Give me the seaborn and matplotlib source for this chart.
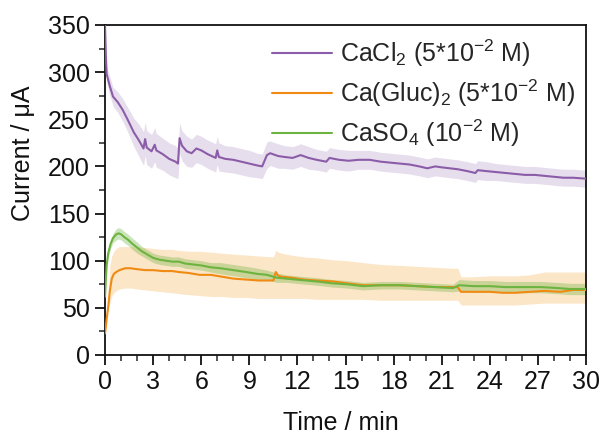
import matplotlib
matplotlib.use("Agg")
import matplotlib.pyplot as plt
import seaborn as sns
import pandas as pd
from matplotlib.ticker import MultipleLocator

# ---- data ----
labels = [r"CaCl$_2$ (5*10$^{-2}$ M)", r"Ca(Gluc)$_2$ (5*10$^{-2}$ M)", r"CaSO$_4$ (10$^{-2}$ M)"]

t_p = [0, 0.05, 0.1, 0.3, 0.5, 0.8, 1.1, 1.4, 1.8, 2.1, 2.4, 2.5, 2.6, 2.9, 3.1, 3.2, 3.6, 4.0, 4.4, 4.55,
       4.65, 4.8, 5.1, 5.4, 5.7, 6.0, 6.4, 6.9, 7.0, 7.1, 7.5, 8.0, 8.5, 9.0, 9.5, 9.8, 10.1, 10.3, 10.8, 11.2,
       11.7, 12.2, 12.7, 13.2, 13.8, 14.0, 14.6, 15.2, 15.8, 16.5, 17.2, 17.8, 18.4, 19.0, 19.6, 20.1, 20.6,
       21.0, 21.5, 22.0, 22.6, 23.1, 23.25, 23.8, 24.4, 25.0, 25.6, 26.2, 26.8, 27.4, 28.0, 28.6, 29.2, 30.0]
y_p = [350, 318, 298, 285, 274, 268, 260, 250, 236, 228, 219, 229, 220, 216, 223, 217, 213, 208, 205, 203,
       230, 222, 216, 214, 219, 217, 213, 209, 217, 210, 208, 207, 205, 203, 201, 200, 212, 214, 211, 210,
       209, 212, 209, 207, 205, 209, 207, 206, 207, 207, 205, 204, 203, 202, 200, 198, 200,
       199, 198, 197, 195, 193, 196, 195, 194, 193, 192, 191, 191, 190, 189, 188, 188, 187]
sd_p = [2, 5, 8, 10, 10, 11, 12, 13, 15, 17, 18,
        18, 18, 18, 18, 18, 17, 17, 17, 16, 16, 16, 16, 15, 15, 15, 15, 15, 15, 15, 14, 14, 14, 14, 13, 13,
        14, 13, 13, 12, 12, 12, 12, 11, 11, 11, 11, 11, 10, 10, 10, 10, 10, 10, 10, 10, 10, 10, 10, 10,
        10, 10, 10, 10, 9, 9, 9, 9, 9, 9, 9, 9, 9, 9]

t_g = [0, 0.05, 0.1, 0.2, 0.35, 0.5, 0.7, 0.85, 1.0, 1.2, 1.45, 1.7, 2.0, 2.3, 2.6, 3.0, 3.4, 3.8, 4.2, 4.6,
       5.0, 5.5, 6.0, 6.6, 7.2, 8.0, 8.8, 9.5, 10.1, 10.7, 11.3, 12.2, 13.2, 14.2, 15.1, 16.1, 17.2, 18.4,
       19.5, 20.6, 21.7, 22.1, 23.0, 24.0, 25.0, 26.3, 27.2, 28.2, 29.0, 30.0]
y_g = [62, 80, 95, 108, 118, 124, 128, 129, 128, 125, 122, 118, 114, 110, 107, 103, 101, 100, 99, 99,
       97, 96, 95, 93, 92, 90, 88, 86, 85, 82, 81, 79.5, 78, 76, 75, 73, 74, 74,
       73, 72, 71, 74, 73, 73, 72, 72, 72, 71, 70, 70]
sd_g = [2, 3, 4, 5, 5, 5, 6, 6, 6, 6, 6, 6, 6, 5, 5, 5, 5, 5, 5, 5,
        5, 5, 5, 5, 6, 6, 6, 6, 5, 5, 4, 4, 4, 4, 4, 4, 4, 4,
        4, 4, 4, 6, 6, 6, 6, 6, 6, 6, 6, 6]

t_o = [0, 0.05, 0.1, 0.2, 0.3, 0.42, 0.55, 0.7, 0.9, 1.25, 1.6, 2.0, 2.5, 3.0, 3.6, 4.2, 4.6, 5.2, 5.9, 6.6,
       7.3, 8.0, 8.8, 9.6, 10.5, 10.65, 10.8, 11.0, 11.6, 12.4, 13.2, 14.2, 15.1, 16.1, 17.2, 18.4, 19.5,
       20.6, 21.7, 22.0, 22.2, 23.0, 24.0, 24.8, 25.6, 26.5, 27.4, 28.4, 29.2, 30.0]
y_o = [23, 30, 38, 51, 68, 81, 86, 88, 90, 92, 92, 91, 90, 90, 89, 89, 88, 87, 85, 85,
       83, 81, 80, 79, 79, 88, 84, 83, 82, 80, 79, 78, 76, 74, 74, 74, 73,
       72, 72, 72, 67, 67, 67, 66, 66, 67, 68, 67, 69, 69]
hi_o = [23, 30, 38, 51, 95, 105, 110, 113, 115, 115, 115, 115, 114, 113, 112, 112, 111, 110, 110, 109,
        108, 107, 106, 105, 104, 111, 109, 108, 106, 104, 103, 101, 100, 98, 96, 95, 94,
        93, 92, 92, 83, 83, 84, 84, 84, 85, 88, 88, 88, 88]
lo_o = [23, 30, 38, 51, 55, 62, 66, 68, 70, 71, 71, 70, 69, 68, 67, 66, 65, 64, 63, 62,
        62, 61, 61, 60, 60, 60, 60, 60, 60, 60, 59, 59, 59, 59, 58, 58, 58,
        58, 58, 58, 53, 53, 53, 53, 53, 54, 55, 55, 55, 55]

colors = ["#8b5ca8", "#f08a12", "#6db33f"]

# ---- figure ----
sns.set_theme(style="ticks")
plt.rcParams["font.family"] = ["Liberation Sans", "DejaVu Sans"]
plt.rcParams["mathtext.fontset"] = "custom"
plt.rcParams["mathtext.rm"] = "Liberation Sans"
plt.rcParams["mathtext.it"] = "Liberation Sans:italic"
plt.rcParams["mathtext.default"] = "regular"

fig = plt.figure(figsize=(6.05, 4.38), dpi=100)
ax = fig.add_axes([0.1736, 0.1895, 0.795, 0.7535])

df = pd.concat([
    pd.DataFrame({"t": t_p, "y": y_p, "s": labels[0]}),
    pd.DataFrame({"t": t_o, "y": y_o, "s": labels[1]}),
    pd.DataFrame({"t": t_g, "y": y_g, "s": labels[2]}),
], ignore_index=True)

# bands
ax.fill_between(t_o, lo_o, hi_o, color="#fbd39b", alpha=0.55, lw=0, zorder=1)
ax.fill_between(t_g, [a - b for a, b in zip(y_g, sd_g)], [a + b for a, b in zip(y_g, sd_g)],
                color=colors[2], alpha=0.35, lw=0, zorder=1.2)
ax.fill_between(t_p, [a - b for a, b in zip(y_p, sd_p)], [a + b for a, b in zip(y_p, sd_p)],
                color=colors[0], alpha=0.2, lw=0, zorder=1.1)

sns.lineplot(data=df, x="t", y="y", hue="s", hue_order=labels, palette=colors,
             estimator=None, sort=False, lw=1.5, ax=ax, zorder=3)

ax.set_xlim(0, 30)
ax.set_ylim(0, 350)
ax.xaxis.set_major_locator(MultipleLocator(3))
ax.xaxis.set_minor_locator(MultipleLocator(1))
ax.yaxis.set_major_locator(MultipleLocator(50))
ax.yaxis.set_minor_locator(MultipleLocator(25))
ax.tick_params(which="major", direction="out", length=7, width=1.3, labelsize=18, colors="#111111", pad=4)
ax.tick_params(which="minor", direction="out", length=4, width=1.1)
ax.tick_params(top=False, right=False, which="both")
for sp in ax.spines.values():
    sp.set_visible(True)
    sp.set_linewidth(1.3)
    sp.set_color("#111111")

ax.set_xlabel("Time / min", fontsize=18, color="#111111")
ax.set_ylabel("Current / μA", fontsize=18, color="#111111")
ax.xaxis.set_label_coords(0.49, -0.17)
ax.yaxis.set_label_coords(-0.146, 0.61)

leg = ax.legend(loc="upper left", bbox_to_anchor=(0.31, 1.015), frameon=False, fontsize=18,
                handlelength=2.4, labelspacing=0.35, handletextpad=0.32, borderaxespad=0.3)
for h in leg.get_lines():
    h.set_linewidth(1.5)

fig.savefig("out.png", dpi=100)
